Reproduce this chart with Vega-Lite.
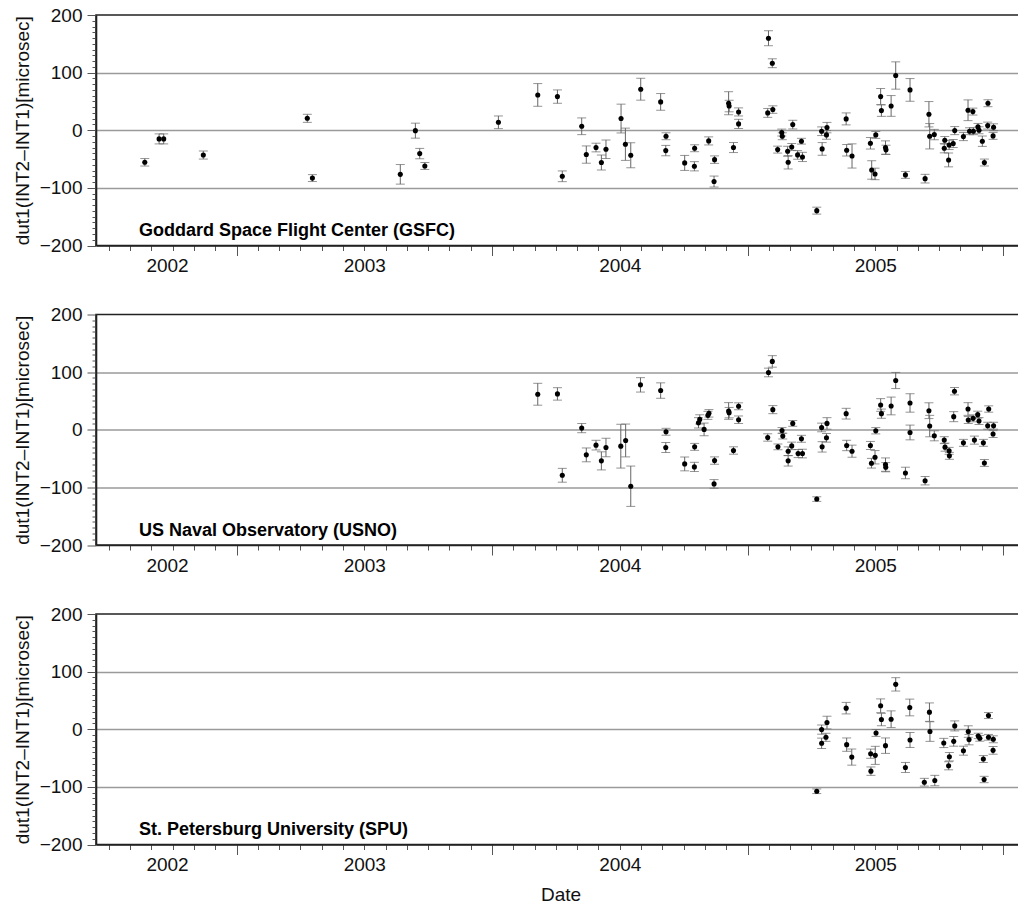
{
  "$schema": "https://vega.github.io/schema/vega-lite/v6.json",
  "padding": {"left": 12, "top": 5, "right": 0, "bottom": 0},
  "bounds": "flush",
  "spacing": 68.5,
  "config": {
    "font": "Liberation Sans",
    "view": {"stroke": "#222", "strokeWidth": 1.6},
    "axis": {
      "labelFont": "Liberation Sans",
      "titleFont": "Liberation Sans",
      "labelFontSize": 19,
      "titleFontSize": 19,
      "titleFontWeight": "normal",
      "labelColor": "#111",
      "titleColor": "#111",
      "domainColor": "#222",
      "domainWidth": 1.6,
      "tickColor": "#555",
      "labelOverlap": false,
      "labelFlush": false,
      "labelBound": false
    }
  },
  "datasets": {
    "gsfc": [
      {"year": 2002.641, "dut1": -55.6, "err": 6.5},
      {"year": 2002.697, "dut1": -15, "err": 8.7},
      {"year": 2002.715, "dut1": -15, "err": 8.7},
      {"year": 2002.870, "dut1": -43, "err": 7},
      {"year": 2003.277, "dut1": 20.7, "err": 7},
      {"year": 2003.297, "dut1": -83, "err": 6},
      {"year": 2003.641, "dut1": -76.5, "err": 17},
      {"year": 2003.700, "dut1": -0.7, "err": 13},
      {"year": 2003.717, "dut1": -40.5, "err": 9},
      {"year": 2003.737, "dut1": -62, "err": 6},
      {"year": 2004.025, "dut1": 13.8, "err": 11},
      {"year": 2004.179, "dut1": 61.3, "err": 19.7},
      {"year": 2004.256, "dut1": 58.4, "err": 11.6},
      {"year": 2004.275, "dut1": -79.9, "err": 9.3},
      {"year": 2004.351, "dut1": 6.9, "err": 14.5},
      {"year": 2004.369, "dut1": -42.2, "err": 15},
      {"year": 2004.407, "dut1": -30, "err": 7.5},
      {"year": 2004.428, "dut1": -56, "err": 13},
      {"year": 2004.446, "dut1": -33, "err": 16},
      {"year": 2004.505, "dut1": 20.3, "err": 25},
      {"year": 2004.522, "dut1": -24.3, "err": 28},
      {"year": 2004.543, "dut1": -43.4, "err": 21.7},
      {"year": 2004.582, "dut1": 71.2, "err": 19},
      {"year": 2004.660, "dut1": 49.2, "err": 14.5},
      {"year": 2004.681, "dut1": -10.4, "err": 6},
      {"year": 2004.680, "dut1": -35.3, "err": 9},
      {"year": 2004.754, "dut1": -56.7, "err": 13},
      {"year": 2004.793, "dut1": -31.2, "err": 6},
      {"year": 2004.792, "dut1": -62.5, "err": 8},
      {"year": 2004.848, "dut1": -18.5, "err": 7},
      {"year": 2004.871, "dut1": -51, "err": 6.5},
      {"year": 2004.869, "dut1": -89, "err": 9.5},
      {"year": 2004.926, "dut1": 46.9, "err": 20},
      {"year": 2004.928, "dut1": 42, "err": 10},
      {"year": 2004.945, "dut1": -30, "err": 8.7},
      {"year": 2004.965, "dut1": 31.8, "err": 7},
      {"year": 2004.965, "dut1": 11, "err": 8},
      {"year": 2005.082, "dut1": 159.7, "err": 13},
      {"year": 2005.097, "dut1": 116.3, "err": 7.7},
      {"year": 2005.079, "dut1": 30.1, "err": 7.7},
      {"year": 2005.099, "dut1": 35.9, "err": 6.5},
      {"year": 2005.134, "dut1": -4, "err": 6},
      {"year": 2005.136, "dut1": -10.4, "err": 6},
      {"year": 2005.177, "dut1": 9.8, "err": 7.5},
      {"year": 2005.118, "dut1": -33.6, "err": 6},
      {"year": 2005.157, "dut1": -36.5, "err": 8.7},
      {"year": 2005.159, "dut1": -55.6, "err": 11.6},
      {"year": 2005.173, "dut1": -29, "err": 6},
      {"year": 2005.196, "dut1": -42.8, "err": 7.5},
      {"year": 2005.215, "dut1": -46.3, "err": 8},
      {"year": 2005.211, "dut1": -19, "err": 5},
      {"year": 2005.271, "dut1": -139.5, "err": 6},
      {"year": 2005.290, "dut1": -1.7, "err": 7.5},
      {"year": 2005.292, "dut1": -32.4, "err": 11},
      {"year": 2005.309, "dut1": -8.1, "err": 7.5},
      {"year": 2005.311, "dut1": 4.6, "err": 9},
      {"year": 2005.386, "dut1": 19.7, "err": 10.4},
      {"year": 2005.388, "dut1": -34.7, "err": 10},
      {"year": 2005.409, "dut1": -44.6, "err": 21},
      {"year": 2005.481, "dut1": -22.6, "err": 10},
      {"year": 2005.486, "dut1": -68.9, "err": 16},
      {"year": 2005.502, "dut1": -8.1, "err": 6},
      {"year": 2005.499, "dut1": -75.8, "err": 10},
      {"year": 2005.521, "dut1": 58.4, "err": 14},
      {"year": 2005.524, "dut1": 34.1, "err": 10},
      {"year": 2005.540, "dut1": -30, "err": 11.6},
      {"year": 2005.542, "dut1": -34, "err": 8},
      {"year": 2005.562, "dut1": 42.2, "err": 18},
      {"year": 2005.580, "dut1": 95, "err": 23.7},
      {"year": 2005.618, "dut1": -77.5, "err": 6},
      {"year": 2005.636, "dut1": 70, "err": 19.7},
      {"year": 2005.695, "dut1": -84, "err": 7.5},
      {"year": 2005.710, "dut1": 27.8, "err": 22},
      {"year": 2005.713, "dut1": -10.4, "err": 22},
      {"year": 2005.731, "dut1": -7.5, "err": 9},
      {"year": 2005.770, "dut1": -31.2, "err": 8},
      {"year": 2005.772, "dut1": -17.4, "err": 6.5},
      {"year": 2005.787, "dut1": -51.5, "err": 12},
      {"year": 2005.789, "dut1": -25.5, "err": 8},
      {"year": 2005.805, "dut1": -23, "err": 7},
      {"year": 2005.811, "dut1": -0.6, "err": 7},
      {"year": 2005.845, "dut1": -11, "err": 7},
      {"year": 2005.863, "dut1": 34.7, "err": 18},
      {"year": 2005.869, "dut1": -1.7, "err": 6},
      {"year": 2005.882, "dut1": 32.4, "err": 6},
      {"year": 2005.884, "dut1": -1.7, "err": 6},
      {"year": 2005.902, "dut1": 5.8, "err": 6},
      {"year": 2005.906, "dut1": 0, "err": 6},
      {"year": 2005.919, "dut1": -19, "err": 9},
      {"year": 2005.927, "dut1": -56, "err": 6},
      {"year": 2005.940, "dut1": 8.1, "err": 6},
      {"year": 2005.941, "dut1": 46.9, "err": 6},
      {"year": 2005.961, "dut1": -9.8, "err": 6},
      {"year": 2005.963, "dut1": 5.2, "err": 6}
    ],
    "usno": [
      {"year": 2004.179, "dut1": 61.6, "err": 19},
      {"year": 2004.256, "dut1": 62.2, "err": 10.8},
      {"year": 2004.275, "dut1": -79, "err": 12},
      {"year": 2004.351, "dut1": 2.9, "err": 8},
      {"year": 2004.369, "dut1": -43.6, "err": 12},
      {"year": 2004.407, "dut1": -26.7, "err": 8.4},
      {"year": 2004.428, "dut1": -54, "err": 15.7},
      {"year": 2004.446, "dut1": -30.8, "err": 16},
      {"year": 2004.504, "dut1": -28.5, "err": 38},
      {"year": 2004.523, "dut1": -18.6, "err": 28.5},
      {"year": 2004.543, "dut1": -98, "err": 35},
      {"year": 2004.581, "dut1": 77.9, "err": 12.5},
      {"year": 2004.660, "dut1": 68, "err": 13.4},
      {"year": 2004.681, "dut1": -3.5, "err": 6},
      {"year": 2004.680, "dut1": -30.8, "err": 8.7},
      {"year": 2004.754, "dut1": -59.3, "err": 12},
      {"year": 2004.793, "dut1": -29.7, "err": 6},
      {"year": 2004.792, "dut1": -64.5, "err": 8},
      {"year": 2004.808, "dut1": 12, "err": 9},
      {"year": 2004.813, "dut1": 18, "err": 8},
      {"year": 2004.830, "dut1": 0.6, "err": 11},
      {"year": 2004.845, "dut1": 25, "err": 7},
      {"year": 2004.849, "dut1": 28.5, "err": 6.5},
      {"year": 2004.871, "dut1": -53.5, "err": 6.4},
      {"year": 2004.869, "dut1": -94, "err": 7.5},
      {"year": 2004.926, "dut1": 32.6, "err": 14.5},
      {"year": 2004.928, "dut1": 29.7, "err": 9},
      {"year": 2004.965, "dut1": 40.7, "err": 6},
      {"year": 2004.965, "dut1": 17.4, "err": 6.5},
      {"year": 2004.945, "dut1": -36, "err": 6.4},
      {"year": 2005.097, "dut1": 118.6, "err": 10},
      {"year": 2005.082, "dut1": 99.4, "err": 7.5},
      {"year": 2005.099, "dut1": 34.9, "err": 7},
      {"year": 2005.079, "dut1": -13.4, "err": 6.4},
      {"year": 2005.135, "dut1": -1.2, "err": 5},
      {"year": 2005.138, "dut1": -11, "err": 5},
      {"year": 2005.177, "dut1": 11, "err": 5},
      {"year": 2005.119, "dut1": -29.7, "err": 5},
      {"year": 2005.159, "dut1": -37.2, "err": 7.5},
      {"year": 2005.159, "dut1": -54, "err": 9},
      {"year": 2005.173, "dut1": -28, "err": 6.5},
      {"year": 2005.198, "dut1": -41.3, "err": 7},
      {"year": 2005.215, "dut1": -41.3, "err": 7.5},
      {"year": 2005.211, "dut1": -15.7, "err": 6},
      {"year": 2005.271, "dut1": -120.3, "err": 4},
      {"year": 2005.290, "dut1": 4, "err": 7.5},
      {"year": 2005.311, "dut1": 11, "err": 10},
      {"year": 2005.309, "dut1": -14, "err": 7.5},
      {"year": 2005.292, "dut1": -29.7, "err": 9},
      {"year": 2005.386, "dut1": 27.9, "err": 9.3},
      {"year": 2005.388, "dut1": -27.3, "err": 9},
      {"year": 2005.409, "dut1": -37.2, "err": 10.5},
      {"year": 2005.481, "dut1": -27.3, "err": 7},
      {"year": 2005.502, "dut1": -1.7, "err": 5.5},
      {"year": 2005.485, "dut1": -58.1, "err": 8.4},
      {"year": 2005.499, "dut1": -47.7, "err": 11.6},
      {"year": 2005.521, "dut1": 43, "err": 11},
      {"year": 2005.524, "dut1": 27.9, "err": 8},
      {"year": 2005.562, "dut1": 41.3, "err": 15.4},
      {"year": 2005.540, "dut1": -60.5, "err": 11.6},
      {"year": 2005.541, "dut1": -65, "err": 8},
      {"year": 2005.580, "dut1": 85.5, "err": 14},
      {"year": 2005.636, "dut1": 46.5, "err": 16},
      {"year": 2005.636, "dut1": -4.7, "err": 12.8},
      {"year": 2005.618, "dut1": -75, "err": 10},
      {"year": 2005.695, "dut1": -88.4, "err": 7.3},
      {"year": 2005.710, "dut1": 33.1, "err": 13.7},
      {"year": 2005.713, "dut1": 6.4, "err": 18.6},
      {"year": 2005.731, "dut1": -10.5, "err": 8.7},
      {"year": 2005.770, "dut1": -18, "err": 6},
      {"year": 2005.773, "dut1": -30.2, "err": 7},
      {"year": 2005.789, "dut1": -36.6, "err": 6},
      {"year": 2005.790, "dut1": -45.3, "err": 6},
      {"year": 2005.810, "dut1": 66.9, "err": 6.4},
      {"year": 2005.807, "dut1": 22.7, "err": 8.7},
      {"year": 2005.845, "dut1": -22.7, "err": 6},
      {"year": 2005.863, "dut1": 36, "err": 11},
      {"year": 2005.864, "dut1": 16.9, "err": 6},
      {"year": 2005.883, "dut1": 19.8, "err": 6},
      {"year": 2005.888, "dut1": -18, "err": 7},
      {"year": 2005.901, "dut1": 26.2, "err": 6},
      {"year": 2005.906, "dut1": 15.1, "err": 6},
      {"year": 2005.923, "dut1": -22.7, "err": 6},
      {"year": 2005.927, "dut1": -57.6, "err": 6},
      {"year": 2005.944, "dut1": 36, "err": 5.5},
      {"year": 2005.940, "dut1": 7, "err": 6},
      {"year": 2005.963, "dut1": 7, "err": 6},
      {"year": 2005.961, "dut1": -7.5, "err": 6}
    ],
    "spu": [
      {"year": 2005.271, "dut1": -107.6, "err": 4},
      {"year": 2005.290, "dut1": -0.6, "err": 8},
      {"year": 2005.311, "dut1": 11.6, "err": 11},
      {"year": 2005.307, "dut1": -14, "err": 7},
      {"year": 2005.290, "dut1": -24.4, "err": 9},
      {"year": 2005.386, "dut1": 36.6, "err": 10},
      {"year": 2005.388, "dut1": -26.7, "err": 11.6},
      {"year": 2005.408, "dut1": -48.3, "err": 14},
      {"year": 2005.482, "dut1": -42.4, "err": 8},
      {"year": 2005.500, "dut1": -45.3, "err": 15.7},
      {"year": 2005.483, "dut1": -72.7, "err": 7.3},
      {"year": 2005.521, "dut1": 40.7, "err": 12},
      {"year": 2005.524, "dut1": 16.9, "err": 10.8},
      {"year": 2005.503, "dut1": -6.4, "err": 6},
      {"year": 2005.540, "dut1": -28.5, "err": 13.4},
      {"year": 2005.562, "dut1": 17.4, "err": 14.5},
      {"year": 2005.580, "dut1": 77.9, "err": 11.6},
      {"year": 2005.618, "dut1": -66.3, "err": 8.7},
      {"year": 2005.635, "dut1": 37.8, "err": 14.5},
      {"year": 2005.636, "dut1": -18.6, "err": 13},
      {"year": 2005.692, "dut1": -91.9, "err": 6.7},
      {"year": 2005.733, "dut1": -89, "err": 9},
      {"year": 2005.712, "dut1": 29.7, "err": 16},
      {"year": 2005.714, "dut1": -4, "err": 17},
      {"year": 2005.768, "dut1": -23.8, "err": 8},
      {"year": 2005.807, "dut1": -21, "err": 8.4},
      {"year": 2005.811, "dut1": 5.8, "err": 8.7},
      {"year": 2005.790, "dut1": -47.7, "err": 7.3},
      {"year": 2005.787, "dut1": -63.4, "err": 7},
      {"year": 2005.845, "dut1": -37.2, "err": 7.8},
      {"year": 2005.864, "dut1": -4, "err": 10},
      {"year": 2005.867, "dut1": -18, "err": 9},
      {"year": 2005.903, "dut1": -11.6, "err": 4.7},
      {"year": 2005.909, "dut1": -15.7, "err": 5},
      {"year": 2005.923, "dut1": -51.7, "err": 6},
      {"year": 2005.926, "dut1": -87.2, "err": 5.5},
      {"year": 2005.943, "dut1": 23.8, "err": 5.2},
      {"year": 2005.943, "dut1": -14, "err": 5},
      {"year": 2005.962, "dut1": -17.4, "err": 6},
      {"year": 2005.961, "dut1": -36.6, "err": 6.7}
    ]
  },
  "vconcat": [
    {
      "width": 929,
      "height": 230.5,
      "data": {"name": "gsfc"},
      "encoding": {
        "x": {
          "field": "year", "type": "quantitative",
          "scale": {"domain": [2002.45, 2006.086], "nice": false, "zero": false},
          "axis": {
            "title": null,
            "values": [2002.5, 2002.5833, 2002.6667, 2002.728, 2002.75, 2002.8333, 2002.9167, 2003, 2003.0833, 2003.1667, 2003.25, 2003.3333, 2003.4167, 2003.5, 2003.5833, 2003.6667, 2003.75, 2003.8333, 2003.9167, 2004, 2004.0833, 2004.1667, 2004.25, 2004.3333, 2004.4167, 2004.5, 2004.5833, 2004.6667, 2004.75, 2004.8333, 2004.9167, 2005, 2005.0833, 2005.1667, 2005.25, 2005.3333, 2005.4167, 2005.5, 2005.5833, 2005.6667, 2005.75, 2005.8333, 2005.9167, 2006],
            "tickSize": {"condition": {"test": "datum.value % 1 == 0", "value": 10}, "value": 5},
            "tickOpacity": {"condition": {"test": "datum.value == 2002.728", "value": 0}, "value": 1},
            "labelExpr": "datum.value == 2002.728 ? '2002' : datum.value == 2003.5 ? '2003' : datum.value == 2004.5 ? '2004' : datum.value == 2005.5 ? '2005' : ''",
            "labelPadding": 6,
            "grid": false
          }
        },
        "y": {
          "field": "dut1", "type": "quantitative",
          "scale": {"domain": [-200, 200], "nice": false},
          "axis": {
            "title": "dut1(INT2–INT1)[microsec]",
            "values": [-200, -190, -180, -170, -160, -150, -140, -130, -120, -110, -100, -90, -80, -70, -60, -50, -40, -30, -20, -10, 0, 10, 20, 30, 40, 50, 60, 70, 80, 90, 100, 110, 120, 130, 140, 150, 160, 170, 180, 190, 200],
            "tickSize": {"condition": {"test": "datum.value % 100 == 0", "value": 9}, "value": 4},
            "labelExpr": "datum.value % 100 == 0 ? datum.label : ''",
            "labelPadding": 5,
            "titlePadding": 7,
            "grid": true,
            "gridColor": "#9a9a9a",
            "gridWidth": 1.5,
            "gridOpacity": {"condition": {"test": "datum.value % 100 == 0 && abs(datum.value) < 200", "value": 1}, "value": 0}
          }
        }
      },
      "layer": [
        {
          "mark": {"type": "errorbar", "color": "#666", "thickness": 1, "ticks": {"size": 9, "color": "#666"}},
          "encoding": {"yError": {"field": "err"}}
        },
        {"mark": {"type": "point", "filled": true, "color": "#000", "opacity": 1, "size": 26}},
        {
          "data": {"values": [{"station": "Goddard Space Flight Center (GSFC)", "x0": 2002.618, "y0": -184}]},
          "mark": {"type": "text", "align": "left", "baseline": "alphabetic", "fontSize": 18, "fontWeight": "bold", "color": "#000"},
          "encoding": {
            "x": {"field": "x0", "type": "quantitative"},
            "y": {"field": "y0", "type": "quantitative"},
            "text": {"field": "station"}
          }
        }
      ]
    },
    {
      "width": 929,
      "height": 230.5,
      "data": {"name": "usno"},
      "encoding": {
        "x": {
          "field": "year", "type": "quantitative",
          "scale": {"domain": [2002.45, 2006.086], "nice": false, "zero": false},
          "axis": {
            "title": null,
            "values": [2002.5, 2002.5833, 2002.6667, 2002.728, 2002.75, 2002.8333, 2002.9167, 2003, 2003.0833, 2003.1667, 2003.25, 2003.3333, 2003.4167, 2003.5, 2003.5833, 2003.6667, 2003.75, 2003.8333, 2003.9167, 2004, 2004.0833, 2004.1667, 2004.25, 2004.3333, 2004.4167, 2004.5, 2004.5833, 2004.6667, 2004.75, 2004.8333, 2004.9167, 2005, 2005.0833, 2005.1667, 2005.25, 2005.3333, 2005.4167, 2005.5, 2005.5833, 2005.6667, 2005.75, 2005.8333, 2005.9167, 2006],
            "tickSize": {"condition": {"test": "datum.value % 1 == 0", "value": 10}, "value": 5},
            "tickOpacity": {"condition": {"test": "datum.value == 2002.728", "value": 0}, "value": 1},
            "labelExpr": "datum.value == 2002.728 ? '2002' : datum.value == 2003.5 ? '2003' : datum.value == 2004.5 ? '2004' : datum.value == 2005.5 ? '2005' : ''",
            "labelPadding": 6,
            "grid": false
          }
        },
        "y": {
          "field": "dut1", "type": "quantitative",
          "scale": {"domain": [-200, 200], "nice": false},
          "axis": {
            "title": "dut1(INT2–INT1)[microsec]",
            "values": [-200, -190, -180, -170, -160, -150, -140, -130, -120, -110, -100, -90, -80, -70, -60, -50, -40, -30, -20, -10, 0, 10, 20, 30, 40, 50, 60, 70, 80, 90, 100, 110, 120, 130, 140, 150, 160, 170, 180, 190, 200],
            "tickSize": {"condition": {"test": "datum.value % 100 == 0", "value": 9}, "value": 4},
            "labelExpr": "datum.value % 100 == 0 ? datum.label : ''",
            "labelPadding": 5,
            "titlePadding": 7,
            "grid": true,
            "gridColor": "#9a9a9a",
            "gridWidth": 1.5,
            "gridOpacity": {"condition": {"test": "datum.value % 100 == 0 && abs(datum.value) < 200", "value": 1}, "value": 0}
          }
        }
      },
      "layer": [
        {
          "mark": {"type": "errorbar", "color": "#666", "thickness": 1, "ticks": {"size": 9, "color": "#666"}},
          "encoding": {"yError": {"field": "err"}}
        },
        {"mark": {"type": "point", "filled": true, "color": "#000", "opacity": 1, "size": 26}},
        {
          "data": {"values": [{"station": "US Naval Observatory (USNO)", "x0": 2002.618, "y0": -184}]},
          "mark": {"type": "text", "align": "left", "baseline": "alphabetic", "fontSize": 18, "fontWeight": "bold", "color": "#000"},
          "encoding": {
            "x": {"field": "x0", "type": "quantitative"},
            "y": {"field": "y0", "type": "quantitative"},
            "text": {"field": "station"}
          }
        }
      ]
    },
    {
      "width": 929,
      "height": 230.5,
      "data": {"name": "spu"},
      "encoding": {
        "x": {
          "field": "year", "type": "quantitative",
          "scale": {"domain": [2002.45, 2006.086], "nice": false, "zero": false},
          "axis": {
            "title": "Date",
            "titlePadding": 6,
            "values": [2002.5, 2002.5833, 2002.6667, 2002.728, 2002.75, 2002.8333, 2002.9167, 2003, 2003.0833, 2003.1667, 2003.25, 2003.3333, 2003.4167, 2003.5, 2003.5833, 2003.6667, 2003.75, 2003.8333, 2003.9167, 2004, 2004.0833, 2004.1667, 2004.25, 2004.3333, 2004.4167, 2004.5, 2004.5833, 2004.6667, 2004.75, 2004.8333, 2004.9167, 2005, 2005.0833, 2005.1667, 2005.25, 2005.3333, 2005.4167, 2005.5, 2005.5833, 2005.6667, 2005.75, 2005.8333, 2005.9167, 2006],
            "tickSize": {"condition": {"test": "datum.value % 1 == 0", "value": 10}, "value": 5},
            "tickOpacity": {"condition": {"test": "datum.value == 2002.728", "value": 0}, "value": 1},
            "labelExpr": "datum.value == 2002.728 ? '2002' : datum.value == 2003.5 ? '2003' : datum.value == 2004.5 ? '2004' : datum.value == 2005.5 ? '2005' : ''",
            "labelPadding": 6,
            "grid": false
          }
        },
        "y": {
          "field": "dut1", "type": "quantitative",
          "scale": {"domain": [-200, 200], "nice": false},
          "axis": {
            "title": "dut1(INT2–INT1)[microsec]",
            "values": [-200, -190, -180, -170, -160, -150, -140, -130, -120, -110, -100, -90, -80, -70, -60, -50, -40, -30, -20, -10, 0, 10, 20, 30, 40, 50, 60, 70, 80, 90, 100, 110, 120, 130, 140, 150, 160, 170, 180, 190, 200],
            "tickSize": {"condition": {"test": "datum.value % 100 == 0", "value": 9}, "value": 4},
            "labelExpr": "datum.value % 100 == 0 ? datum.label : ''",
            "labelPadding": 5,
            "titlePadding": 7,
            "grid": true,
            "gridColor": "#9a9a9a",
            "gridWidth": 1.5,
            "gridOpacity": {"condition": {"test": "datum.value % 100 == 0 && abs(datum.value) < 200", "value": 1}, "value": 0}
          }
        }
      },
      "layer": [
        {
          "mark": {"type": "errorbar", "color": "#666", "thickness": 1, "ticks": {"size": 9, "color": "#666"}},
          "encoding": {"yError": {"field": "err"}}
        },
        {"mark": {"type": "point", "filled": true, "color": "#000", "opacity": 1, "size": 26}},
        {
          "data": {"values": [{"station": "St. Petersburg University (SPU)", "x0": 2002.618, "y0": -184}]},
          "mark": {"type": "text", "align": "left", "baseline": "alphabetic", "fontSize": 18, "fontWeight": "bold", "color": "#000"},
          "encoding": {
            "x": {"field": "x0", "type": "quantitative"},
            "y": {"field": "y0", "type": "quantitative"},
            "text": {"field": "station"}
          }
        }
      ]
    }
  ]
}
